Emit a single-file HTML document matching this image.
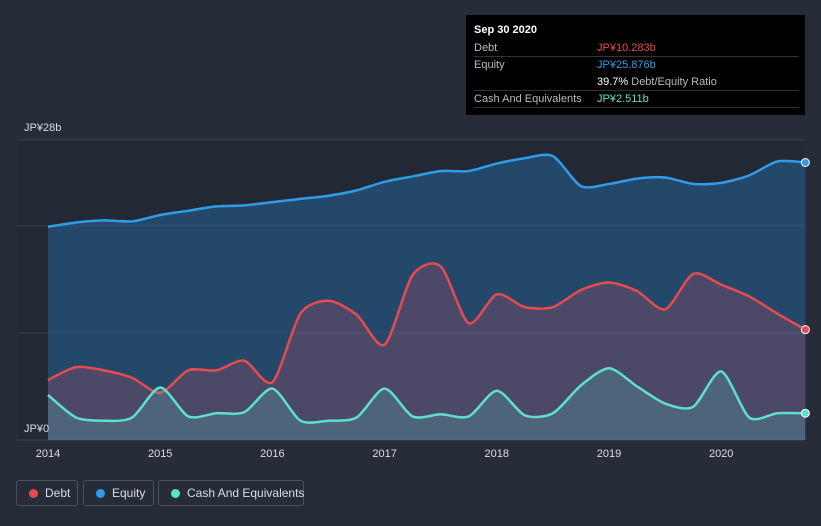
<!DOCTYPE html>
<html><head><meta charset="utf-8"><style>
body{margin:0;background:#262d39;font-family:"Liberation Sans",sans-serif;}
#wrap{position:relative;width:821px;height:526px;overflow:hidden;background:#262d39;}
svg{position:absolute;left:0;top:0}
.tip{position:absolute;left:466px;top:15px;width:339px;height:100px;background:#000;color:#fff;font-size:11px}
.row{position:absolute;left:8px;right:6px;height:17px;border-bottom:1px solid #333}
.row span{position:absolute;top:3px}
.leg{position:absolute;top:480px;height:26px;border:1px solid #4a515c;border-radius:3px;color:#ddd;font-size:12px;line-height:24px;box-sizing:border-box;white-space:nowrap}
.dot{display:inline-block;width:9px;height:9px;border-radius:50%;margin:0 7px 0 12px;vertical-align:-1px}
</style></head><body><div id="wrap">
<svg id="chart" width="821" height="526"></svg>
<div class="tip">
<div style="position:absolute;left:8px;top:9px;font-weight:bold">Sep 30 2020</div>
<div class="row" style="top:24px"><span style="color:#bbb">Debt</span><span style="left:123px;color:#e64b4f">JP¥10.283b</span></div>
<div class="row" style="top:41px;border:none"><span style="color:#bbb">Equity</span><span style="left:123px;color:#2f9ce8">JP¥25.876b</span></div>
<div class="row" style="top:58px"><span style="left:123px;color:#fff">39.7% <span style="position:static;color:#bbb">Debt/Equity Ratio</span></span></div>
<div class="row" style="top:75px"><span style="color:#bbb">Cash And Equivalents</span><span style="left:123px;color:#5de0cc">JP¥2.511b</span></div>
</div>
<div class="leg" style="left:16px;width:62px"><span class="dot" style="background:#e64b4f"></span>Debt</div>
<div class="leg" style="left:83px;width:71px"><span class="dot" style="background:#2f9ce8"></span>Equity</div>
<div class="leg" style="left:158px;width:146px"><span class="dot" style="background:#5de0cc"></span>Cash And Equivalents</div>
</div>
<script>
const years=[2014,2015,2016,2017,2018,2019,2020];
const dates=[2014,2014.25,2014.5,2014.75,2015,2015.25,2015.5,2015.75,2016,2016.25,2016.5,2016.75,2017,2017.25,2017.5,2017.75,2018,2018.25,2018.5,2018.75,2019,2019.25,2019.5,2019.75,2020,2020.25,2020.5,2020.75];
const equity=[19.9,20.3,20.5,20.4,21.0,21.4,21.8,21.9,22.2,22.5,22.8,23.3,24.1,24.6,25.1,25.1,25.8,26.3,26.5,23.7,23.9,24.4,24.5,23.9,24.0,24.7,26.0,25.9];
const debt=[5.6,6.8,6.5,5.8,4.4,6.5,6.5,7.4,5.4,11.8,13.0,11.7,8.9,15.4,16.2,10.9,13.6,12.4,12.4,14.0,14.7,13.9,12.2,15.5,14.5,13.4,11.8,10.3];
const cash=[4.2,2.1,1.8,2.1,4.9,2.2,2.5,2.6,4.8,1.8,1.8,2.1,4.8,2.2,2.4,2.2,4.6,2.3,2.5,5.1,6.7,5.0,3.4,3.1,6.4,2.1,2.5,2.5];
const yTicks=[0,10,20,28];
const svg=document.getElementById('chart');const NS='http://www.w3.org/2000/svg';
const X=d=>48+(d-2014)*112.2, Y=v=>440-v*300/28;
function el(t,a,name){const e=document.createElementNS(NS,t);for(const k in a)e.setAttribute(k,a[k]);


svg.appendChild(e);return e;}
el('rect',{x:17,y:140,width:788,height:300,fill:'#222935'},'plot-background');
yTicks.forEach(v=>{el('line',{x1:17,x2:805,y1:Y(v),y2:Y(v),stroke:'#3a414c','stroke-width':1},'gridline');});
function path(vals){const p=vals.map((v,i)=>[X(dates[i]),Y(v)]);let d='M'+p[0][0]+','+p[0][1];
for(let i=0;i<p.length-1;i++){const p0=p[Math.max(i-1,0)],p1=p[i],p2=p[i+1],p3=p[Math.min(i+2,p.length-1)];const t=0.13;
d+=` C${p1[0]+(p2[0]-p0[0])*t},${p1[1]+(p2[1]-p0[1])*t} ${p2[0]-(p3[0]-p1[0])*t},${p2[1]-(p3[1]-p1[1])*t} ${p2[0]},${p2[1]}`;}return d;}
const x0=X(dates[0]),x1=X(dates[dates.length-1]);
[[equity,'#2f9ce8','rgba(40,110,170,0.45)','equity'],[debt,'#e64b4f','rgba(190,70,100,0.25)','debt'],[cash,'#5de0cc','rgba(93,200,190,0.22)','cash']].forEach(([v,c,f,n])=>{
const d=path(v);el('path',{d:d+` L${x1},440 L${x0},440 Z`,fill:f},n+'-area');
el('path',{d:d,fill:'none',stroke:c,'stroke-width':2.5},n+'-line');
el('circle',{cx:x1,cy:Y(v[v.length-1]),r:4,fill:c,stroke:'#fff','stroke-width':1},n+'-end-point');});
years.forEach(y=>{const t=el('text',{x:X(y),y:457,fill:'#ddd','font-size':11,'text-anchor':'middle'},'x-tick-label');t.textContent=y;});
const l1=el('text',{x:24,y:131,fill:'#ddd','font-size':11},'y-max-label');l1.textContent='JP¥28b';
const l2=el('text',{x:24,y:432,fill:'#ddd','font-size':11},'y-min-label');l2.textContent='JP¥0';
</script></body></html>
